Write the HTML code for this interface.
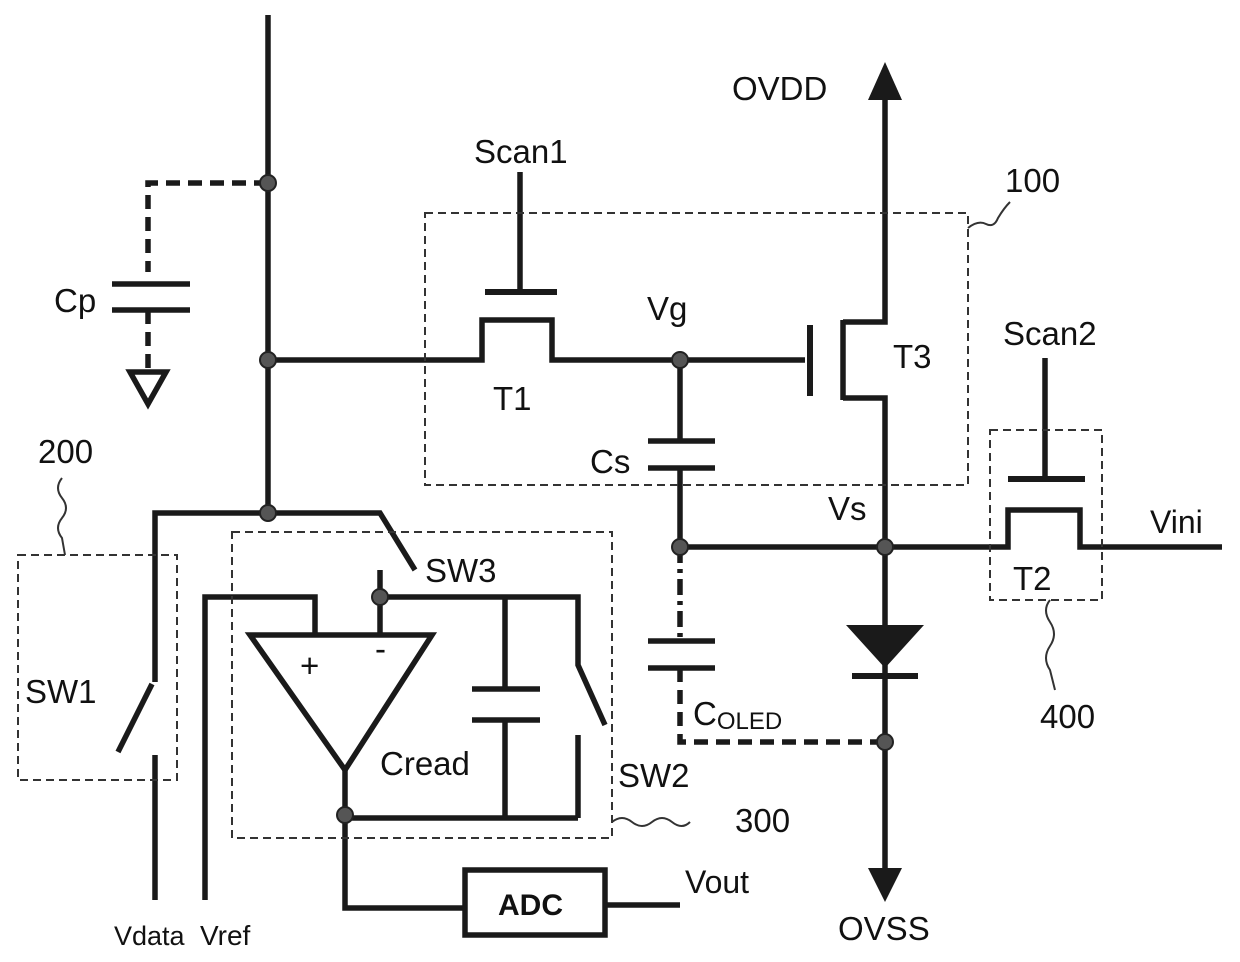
<!DOCTYPE html>
<html><head><meta charset="utf-8"><style>
html,body{margin:0;padding:0;background:#fff}
svg{display:block}
text{font-family:"Liberation Sans",sans-serif;fill:#111}
</style></head><body>
<svg width="1240" height="962" viewBox="0 0 1240 962" xmlns="http://www.w3.org/2000/svg">
<g stroke="#1a1a1a" stroke-width="5.5" fill="none" stroke-linejoin="miter">
<line x1="268" y1="15" x2="268" y2="513"/>
<polyline points="268,183 148,183 148,272" stroke-dasharray="14,8"/>
<line x1="112" y1="284" x2="190" y2="284"/>
<line x1="112" y1="310" x2="190" y2="310"/>
<line x1="148" y1="310" x2="148" y2="370" stroke-dasharray="14,8"/>
<polygon points="130,372 166,372 148,404"/>
<polyline points="268,360 482,360 482,320 552,320 552,360 805,360"/>
<line x1="485" y1="292" x2="557" y2="292" stroke-width="6"/>
<line x1="520" y1="172" x2="520" y2="292"/>
<line x1="810" y1="325" x2="810" y2="396" stroke-width="6"/>
<line x1="843" y1="320" x2="843" y2="400"/>
<polyline points="843,322 885,322 885,95"/>
<polyline points="843,398 885,398 885,880"/>
<line x1="680" y1="360" x2="680" y2="440"/>
<line x1="648" y1="441" x2="715" y2="441"/>
<line x1="648" y1="468" x2="715" y2="468"/>
<line x1="680" y1="468" x2="680" y2="547"/>
<polyline points="680,547 1008,547 1008,510 1080,510 1080,547 1222,547"/>
<line x1="1008" y1="479" x2="1085" y2="479" stroke-width="6"/>
<line x1="1045" y1="358" x2="1045" y2="479"/>
<line x1="680" y1="547" x2="680" y2="640" stroke-dasharray="16,6,4,6"/>
<line x1="648" y1="641" x2="715" y2="641"/>
<line x1="648" y1="668" x2="715" y2="668"/>
<polyline points="680,668 680,742 885,742" stroke-dasharray="14,8"/>
<polyline points="155,682 155,513 380,513 415,570"/>
<line x1="152" y1="684" x2="118" y2="752"/>
<line x1="155" y1="755" x2="155" y2="900"/>
<polyline points="205,900 205,597 315,597 315,635"/>
<polyline points="380,570 380,635"/>
<polyline points="380,597 578,597 578,665 605,725"/>
<line x1="578" y1="735" x2="578" y2="818"/>
<polygon points="250,635 432,635 345,770"/>
<line x1="505" y1="597" x2="505" y2="688"/>
<line x1="472" y1="689" x2="540" y2="689"/>
<line x1="472" y1="720" x2="540" y2="720"/>
<line x1="505" y1="720" x2="505" y2="818"/>
<line x1="345" y1="818" x2="578" y2="818"/>
<polyline points="345,770 345,908 465,908"/>
<rect x="465" y="870" width="140" height="65"/>
<line x1="605" y1="905" x2="680" y2="905"/>
</g>
<polygon points="885,62 868,100 902,100" fill="#1a1a1a"/>
<polygon points="885,902 868,868 902,868" fill="#1a1a1a"/>
<polygon points="846,625 924,625 885,668" fill="#1a1a1a"/>
<line x1="852" y1="676" x2="918" y2="676" stroke="#1a1a1a" stroke-width="6"/>
<g fill="#555" stroke="#222" stroke-width="2">
<circle cx="268" cy="183" r="8"/><circle cx="268" cy="360" r="8"/><circle cx="268" cy="513" r="8"/>
<circle cx="680" cy="360" r="8"/><circle cx="680" cy="547" r="8"/><circle cx="885" cy="547" r="8"/>
<circle cx="885" cy="742" r="8"/><circle cx="380" cy="597" r="8"/><circle cx="345" cy="815" r="8"/>
</g>
<g stroke="#333" stroke-width="2" fill="none" stroke-dasharray="8,5">
<rect x="425" y="213" width="543" height="272"/>
<rect x="18" y="555" width="159" height="225"/>
<rect x="232" y="532" width="380" height="306"/>
<rect x="990" y="430" width="112" height="170"/>
</g>
<g stroke="#333" stroke-width="2" fill="none">
<path d="M968,228 q10,-8 18,-4 q8,4 12,-6 q6,-10 12,-16"/>
<path d="M62,478 q-8,10 0,20 q8,10 0,20 q-8,10 0,20 l3,17"/>
<path d="M612,822 q10,-8 20,0 q10,8 20,0 q10,-8 20,0 q10,8 18,0"/>
<path d="M1050,600 q-8,10 0,22 q8,12 0,24 q-8,12 0,24 l5,20"/>
</g>
<g style="font-size:33px">
<text x="732" y="100">OVDD</text>
<text x="1005" y="192">100</text>
<text x="474" y="163">Scan1</text>
<text x="54" y="312">Cp</text>
<text x="647" y="320">Vg</text>
<text x="893" y="368">T3</text>
<text x="493" y="410">T1</text>
<text x="1003" y="345">Scan2</text>
<text x="38" y="463">200</text>
<text x="590" y="473">Cs</text>
<text x="828" y="520">Vs</text>
<text x="1150" y="533" style="font-size:32px">Vini</text>
<text x="425" y="582">SW3</text>
<text x="1013" y="590">T2</text>
<text x="300" y="677">+</text>
<text x="375" y="660">-</text>
<text x="25" y="703">SW1</text>
<text x="1040" y="728">400</text>
<text x="693" y="725">C<tspan style="font-size:24px" dy="4">OLED</tspan></text>
<text x="380" y="775">Cread</text>
<text x="618" y="787">SW2</text>
<text x="735" y="832">300</text>
<text x="685" y="893" style="font-size:32px">Vout</text>
<text x="498" y="915" style="font-size:30px;font-weight:bold">ADC</text>
<text x="114" y="945" style="font-size:27px">Vdata</text>
<text x="200" y="945" style="font-size:28px">Vref</text>
<text x="838" y="940">OVSS</text>
</g>
</svg>
</body></html>
